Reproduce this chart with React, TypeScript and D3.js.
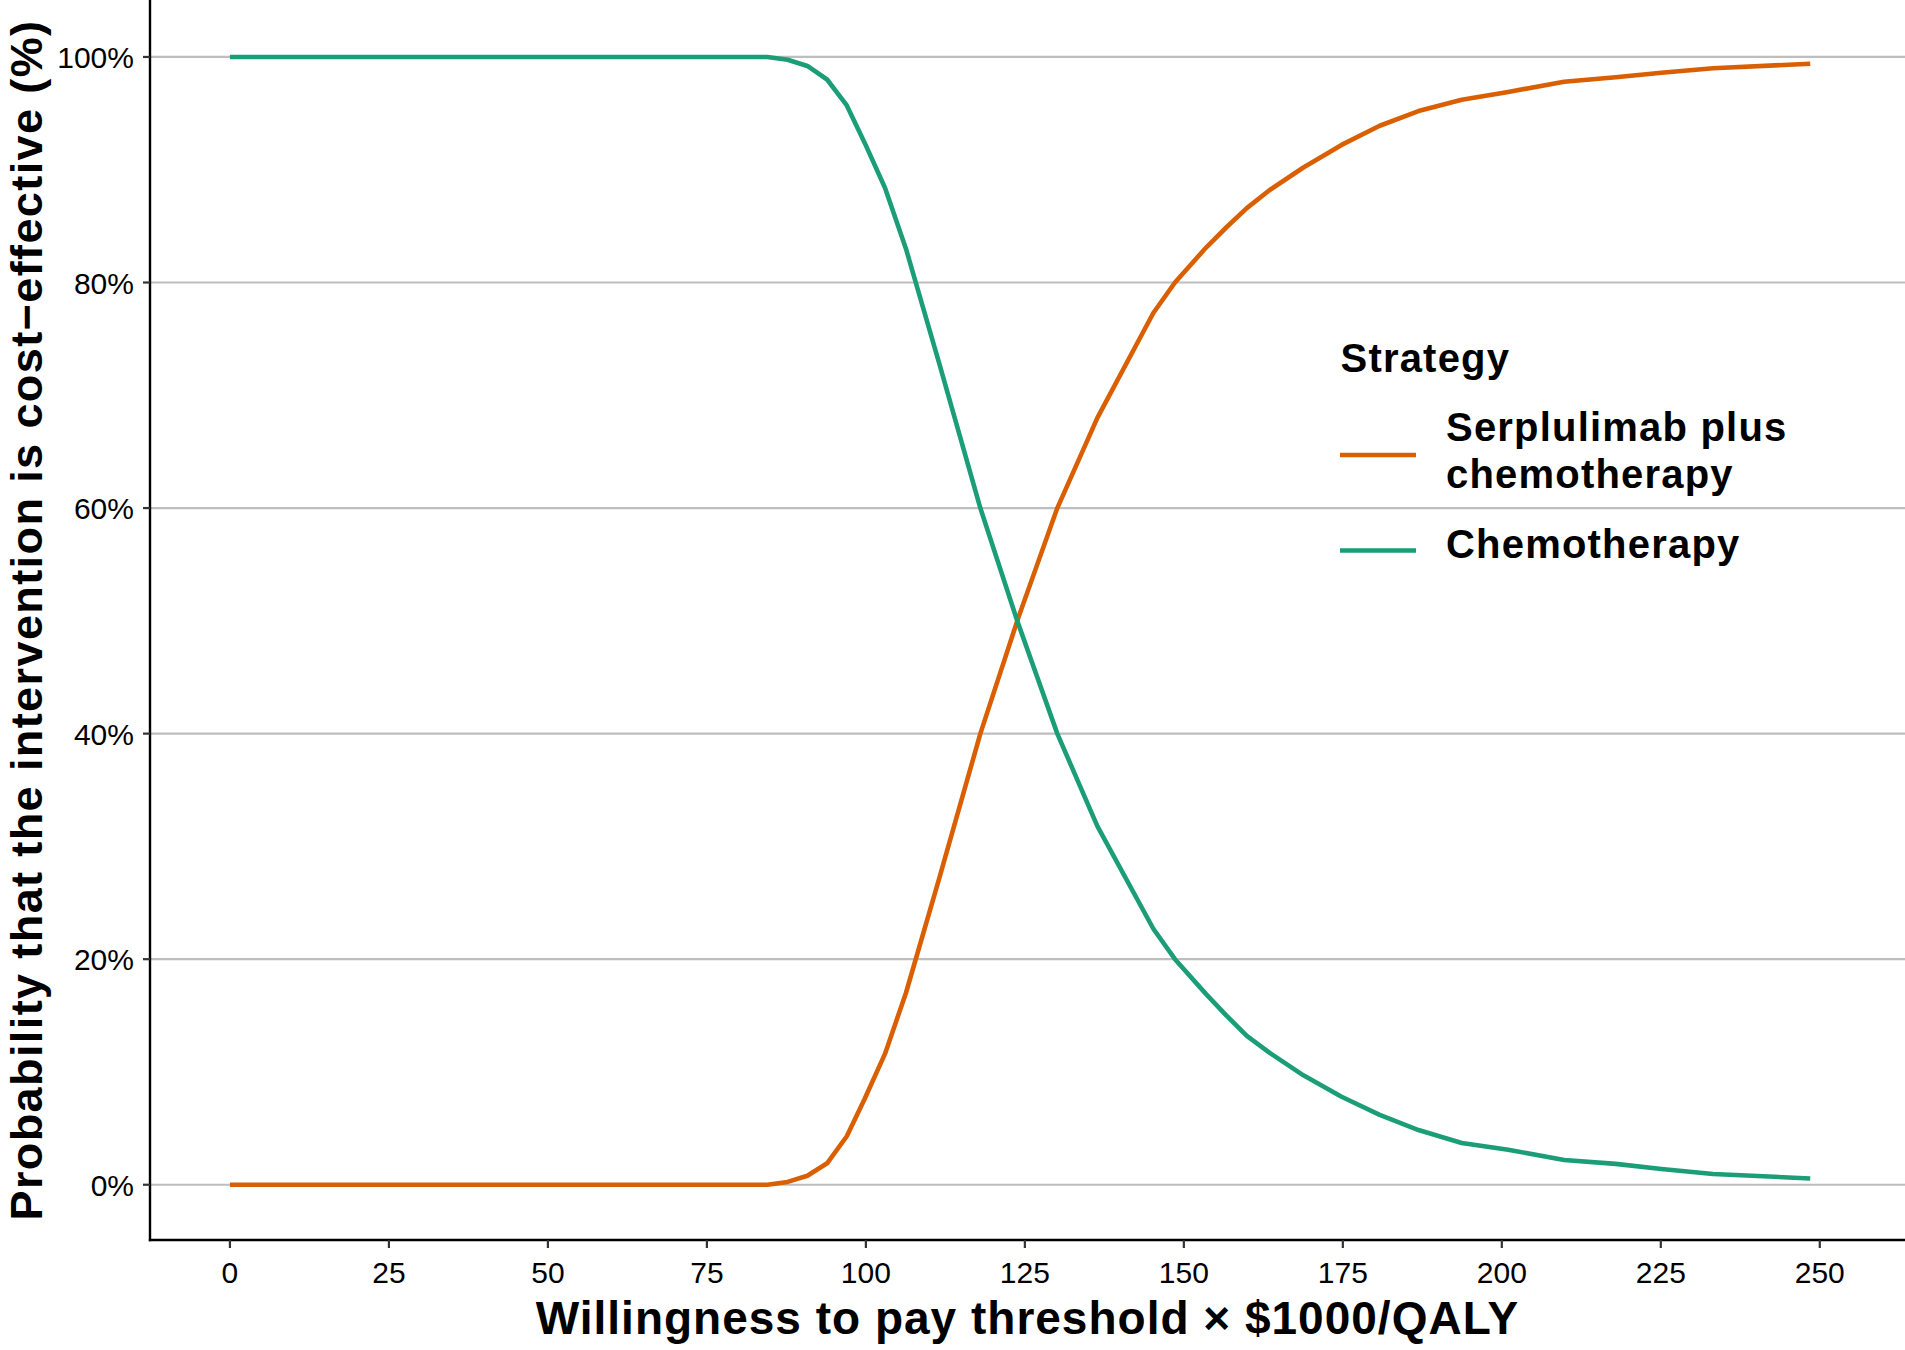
import React, { useEffect } from 'react';
import * as d3 from 'd3';

// WTP thresholds (x $1000/QALY)
const wtp = [0, 84.5, 87.7, 90.8, 93.9, 97.0, 99.8, 103.0, 106.3, 111.5, 118.0, 123.8, 130.1, 136.4, 145.2, 148.6, 153.5, 156.7, 159.9, 163.5, 168.8, 174.8, 180.8, 186.9, 193.7, 201.0, 209.8, 217.9, 225.1, 233.2, 248.5];

// probability cost-effective (%)
const serplulimab = [0, 0, 0.25, 0.8, 1.9, 4.3, 7.6, 11.6, 17.0, 27.1, 40.0, 50.0, 60.0, 68.0, 77.3, 80.0, 83.1, 84.9, 86.6, 88.2, 90.2, 92.2, 93.9, 95.2, 96.2, 96.9, 97.8, 98.2, 98.6, 99.0, 99.4];
const chemo = [100, 100, 99.75, 99.2, 98.0, 95.7, 92.4, 88.4, 83.0, 72.9, 60.0, 50.0, 40.0, 31.8, 22.7, 20.0, 16.9, 15.0, 13.2, 11.7, 9.7, 7.8, 6.2, 4.85, 3.7, 3.1, 2.2, 1.85, 1.4, 0.95, 0.56];

const xTicks = [0, 25, 50, 75, 100, 125, 150, 175, 200, 225, 250];
const yTicks = [0, 20, 40, 60, 80, 100];

const strategies = [
  { name: ['Serplulimab plus', 'chemotherapy'], values: serplulimab, color: '#D95F02' },
  { name: ['Chemotherapy'], values: chemo, color: '#1B9E77' },
];

const W = 1905;
const H = 1350;
const FONT = '"Liberation Sans", Arial, Helvetica, sans-serif';

const App: React.FC = () => {
  useEffect(() => {
    document.body.style.margin = '0';
  }, []);

  // panel: left axis at 150, bottom axis at 1240, runs to the right edge / top
  const x = d3.scaleLinear().domain([-12.57, 263.4]).range([150, W]);
  const y = d3.scaleLinear().domain([-4.9, 105.05]).range([1240, 0]);

  const line = d3.line<number>()
    .x((_, i) => x(wtp[i]))
    .y(d => y(d))
    .curve(d3.curveLinear);

  const left = x.range()[0];
  const bottom = y.range()[0];

  return (
    <svg width={W} height={H} style={{ display: 'block', background: '#fff' }} fontFamily={FONT}>
      {/* horizontal grid */}
      {yTicks.map(t => (
        <line key={'g' + t} x1={left} x2={W} y1={y(t)} y2={y(t)} stroke="#bebebe" strokeWidth={2.2} />
      ))}

      {/* curves, serplulimab first so chemo sits on top */}
      {strategies.map(s => (
        <path key={s.color} d={line(s.values) || ''} fill="none" stroke={s.color}
          strokeWidth={4.6} strokeLinejoin="round" strokeLinecap="butt" />
      ))}

      {/* axes */}
      <line x1={left} x2={left} y1={0} y2={bottom + 1.2} stroke="#000" strokeWidth={2.4} />
      <line x1={left - 1.2} x2={W} y1={bottom} y2={bottom} stroke="#000" strokeWidth={2.4} />

      {yTicks.map(t => (
        <g key={'y' + t}>
          <line x1={left - 7} x2={left} y1={y(t)} y2={y(t)} stroke="#333" strokeWidth={2.2} />
          <text x={134} y={y(t) + 11} textAnchor="end" fontSize={30} fill="#000">{t}%</text>
        </g>
      ))}

      {xTicks.map(t => (
        <g key={'x' + t}>
          <line x1={x(t)} x2={x(t)} y1={bottom} y2={bottom + 8} stroke="#333" strokeWidth={2.2} />
          <text x={x(t)} y={1283} textAnchor="middle" fontSize={30} fill="#000">{t}</text>
        </g>
      ))}

      {/* axis titles */}
      <text x={(left + W) / 2} y={1334} textAnchor="middle" fontSize={46} fontWeight="bold"
        letterSpacing={1} fill="#000">
        Willingness to pay threshold × $1000/QALY
      </text>
      <text transform={`translate(41.5, ${(0 + bottom) / 2}) rotate(-90)`} textAnchor="middle"
        fontSize={45} fontWeight="bold" letterSpacing={1.4} fill="#000">
        Probability that the intervention is cost−effective (%)
      </text>

      {/* legend */}
      <g>
        <text x={1340.5} y={371.5} fontSize={40} fontWeight="bold" letterSpacing={1.2} fill="#000">Strategy</text>
        {strategies.map((s, i) => {
          const keyY = i === 0 ? 455 : 550.5;
          const baselines = i === 0 ? [441, 487.5] : [558];
          return (
            <g key={'l' + i}>
              <line x1={1340} x2={1416} y1={keyY} y2={keyY} stroke={s.color} strokeWidth={4.6} />
              {s.name.map((n, j) => (
                <text key={j} x={1446} y={baselines[j]} fontSize={40} fontWeight="bold"
                  letterSpacing={1.2} fill="#000">{n}</text>
              ))}
            </g>
          );
        })}
      </g>
    </svg>
  );
};

export default App;
